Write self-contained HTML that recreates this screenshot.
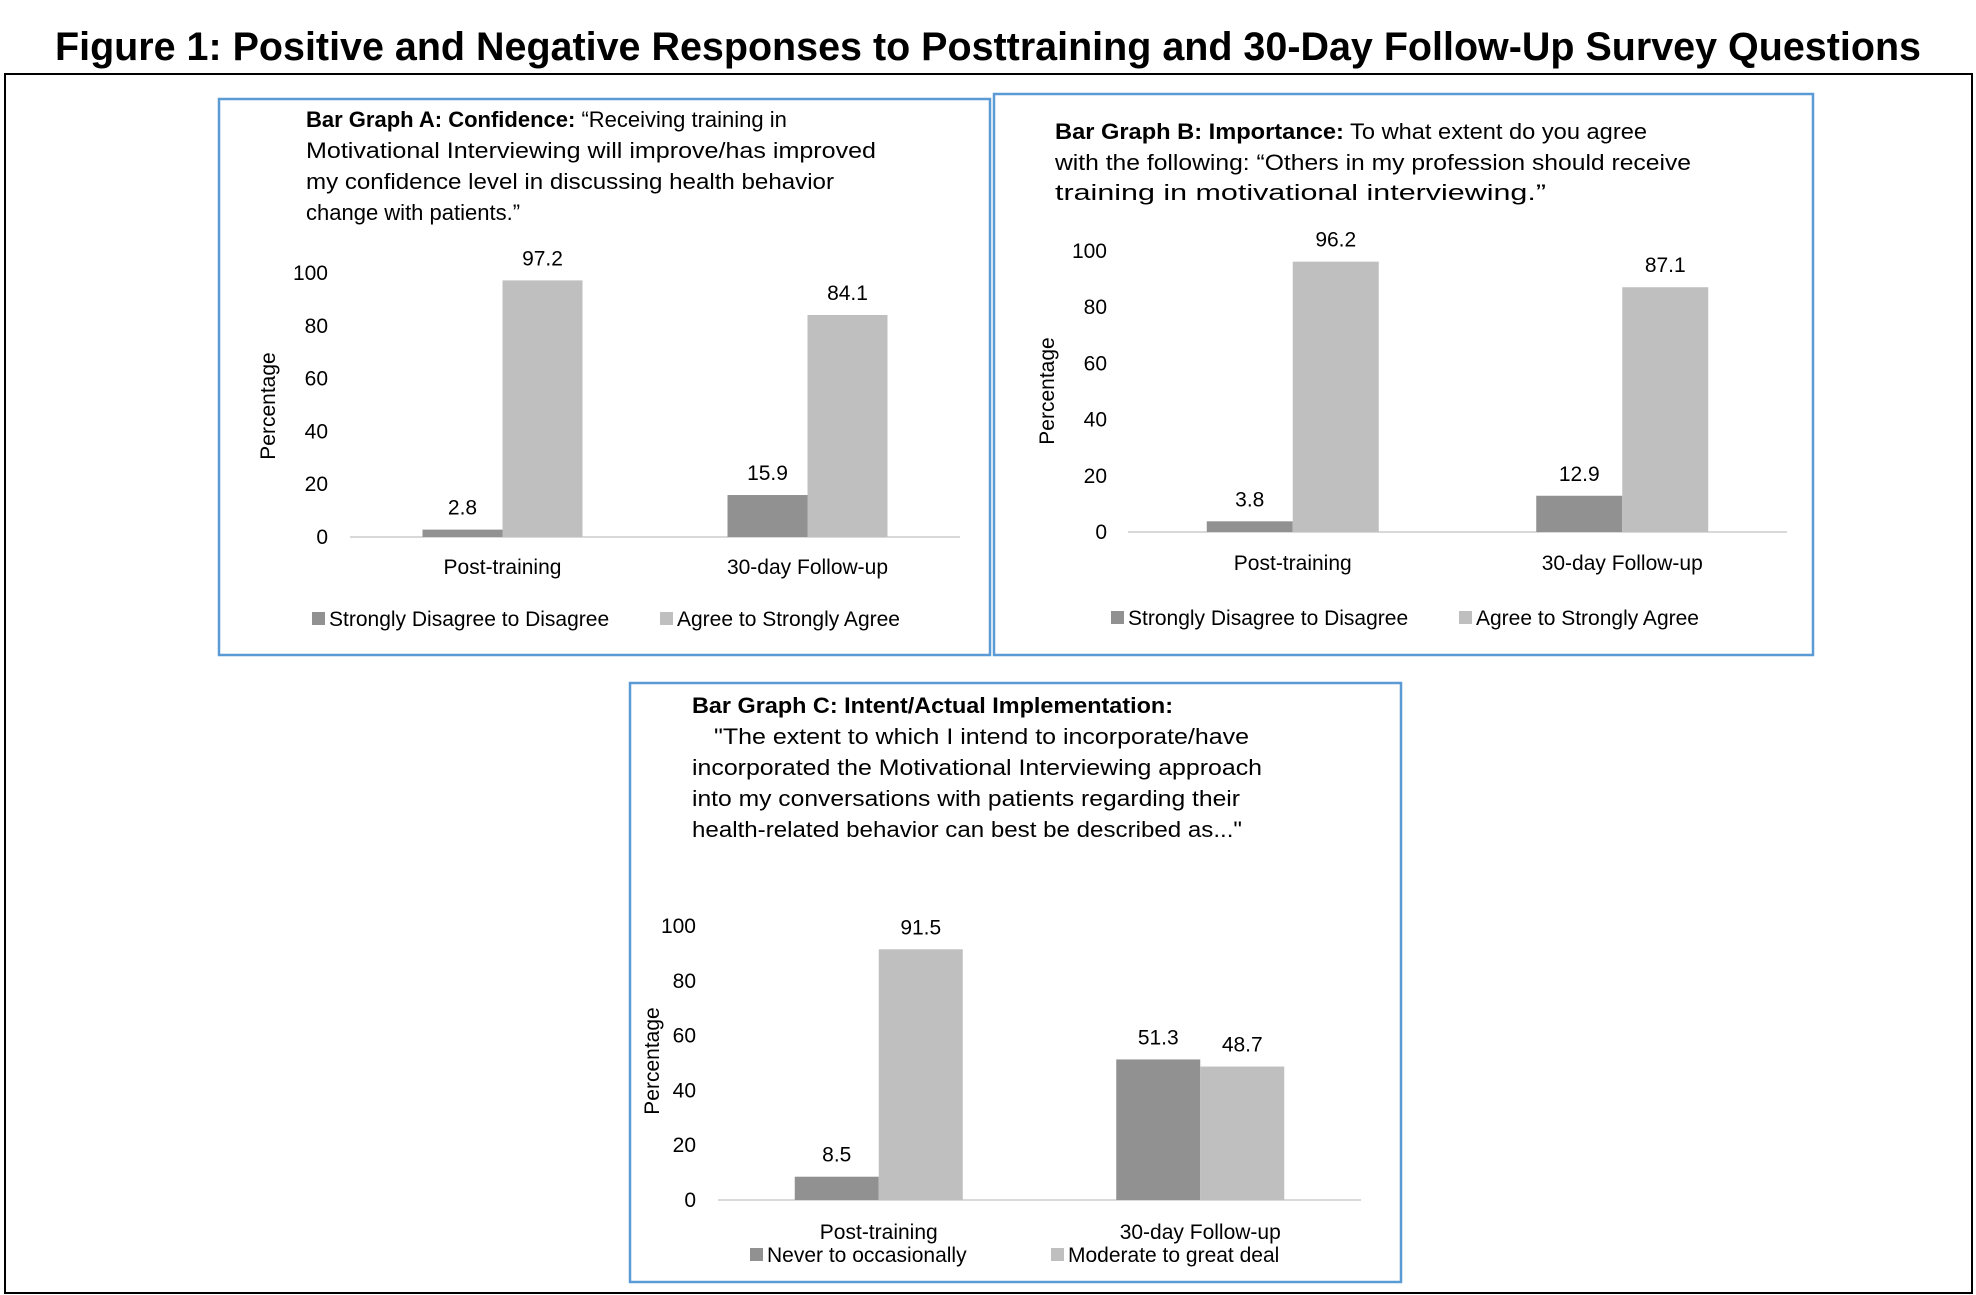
<!DOCTYPE html>
<html><head><meta charset="utf-8"><style>
html,body{margin:0;padding:0;background:#fff;}
svg{display:block;font-family:"Liberation Sans",sans-serif;}
</style></head><body>
<svg id="fig" width="1976" height="1295" viewBox="0 0 1976 1295">
<text x="988" y="60" text-anchor="middle" font-size="40" font-weight="bold" textLength="1866" lengthAdjust="spacingAndGlyphs">Figure 1: Positive and Negative Responses to Posttraining and 30-Day Follow-Up Survey Questions</text>
<rect x="5" y="74" width="1967" height="1219" fill="none" stroke="#000" stroke-width="2"/>
<rect x="219" y="99" width="771" height="556" fill="none" stroke="#5b9bd5" stroke-width="2.5"/>
<rect x="994" y="94" width="819" height="561" fill="none" stroke="#5b9bd5" stroke-width="2.5"/>
<rect x="630" y="683" width="771" height="599" fill="none" stroke="#5b9bd5" stroke-width="2.5"/>
<g font-size="22" fill="#000">
<text x="306" y="127"><tspan font-weight="bold">Bar Graph A: Confidence:</tspan> “Receiving training in</text>
<text x="306" y="158" textLength="570" lengthAdjust="spacingAndGlyphs">Motivational Interviewing will improve/has improved</text>
<text x="306" y="189" textLength="528" lengthAdjust="spacingAndGlyphs">my confidence level in discussing health behavior</text>
<text x="306" y="220">change with patients.”</text>
<text x="1055" y="139" textLength="592" lengthAdjust="spacingAndGlyphs"><tspan font-weight="bold">Bar Graph B: Importance:</tspan> To what extent do you agree</text>
<text x="1055" y="170" textLength="636" lengthAdjust="spacingAndGlyphs">with the following: “Others in my profession should receive</text>
<text x="1055" y="200" textLength="491" lengthAdjust="spacingAndGlyphs">training in motivational interviewing.”</text>
<text x="692" y="713" font-weight="bold" textLength="481" lengthAdjust="spacingAndGlyphs">Bar Graph C: Intent/Actual Implementation:</text>
<text x="714" y="744" textLength="535" lengthAdjust="spacingAndGlyphs">"The extent to which I intend to incorporate/have</text>
<text x="692" y="775" textLength="570" lengthAdjust="spacingAndGlyphs">incorporated the Motivational Interviewing approach</text>
<text x="692" y="806" textLength="548" lengthAdjust="spacingAndGlyphs">into my conversations with patients regarding their</text>
<text x="692" y="837" textLength="550" lengthAdjust="spacingAndGlyphs">health-related behavior can best be described as..."</text>
</g>
</svg>
<script>
const categories = ["Post-training", "30-day Follow-up"];
const tickValues = [0, 20, 40, 60, 80, 100];
const aNegative = [2.8, 15.9];
const aPositive = [97.2, 84.1];
const bNegative = [3.8, 12.9];
const bPositive = [96.2, 87.1];
const cNegative = [8.5, 51.3];
const cPositive = [91.5, 48.7];
const abLegend = ["Strongly Disagree to Disagree", "Agree to Strongly Agree"];
const cLegend = ["Never to occasionally", "Moderate to great deal"];

const NS = "http://www.w3.org/2000/svg";
const svg = document.getElementById("fig");
function mk(tag, attrs, parent) {
  const el = document.createElementNS(NS, tag);
  for (const k in attrs) el.setAttribute(k, attrs[k]);
  (parent || svg).appendChild(el);
  return el;
}
const DARK = "#919191", LIGHT = "#bfbfbf";

function drawChart(id, cfg, neg, pos, legend) {
  const g = mk("g", {});
  
  
  const y = v => cfg.y0 - (v / 100) * (cfg.y0 - cfg.y100);
  const n = categories.length;
  const slot = (cfg.x1 - cfg.x0) / n;
  const cx = i => cfg.x0 + slot * (i + 0.5);
  tickValues.forEach(t => {
    const tx = mk("text", {x: cfg.tickX, y: y(t) + 7, "text-anchor": "end", "font-size": 21, fill: "#000"}, g);
    tx.textContent = t;
    
    
  });
  const axis = mk("line", {x1: cfg.x0, x2: cfg.x1, y1: cfg.y0, y2: cfg.y0, stroke: "#d9d9d9", "stroke-width": 2}, g);
  
  
  const yl = mk("text", {x: 0, y: 0, transform: `translate(${cfg.ylX},${cfg.ylY}) rotate(-90)`, "text-anchor": "middle", "font-size": 21, fill: "#000"}, g);
  yl.textContent = "Percentage";
  
  
  const series = [neg, pos];
  const colors = [DARK, LIGHT];
  categories.forEach((c, i) => {
    series.forEach((s, j) => {
      const bx = cx(i) - cfg.bw + j * cfg.bw;
      const r = mk("rect", {x: bx, y: y(s[i]), width: cfg.bw, height: cfg.y0 - y(s[i]), fill: colors[j]}, g);
      
      
      const lb = mk("text", {x: bx + cfg.bw / 2, y: y(s[i]) - 15, "text-anchor": "middle", "font-size": 21, fill: "#000"}, g);
      lb.textContent = s[i];
      
      
    });
    const cl = mk("text", {x: cx(i), y: cfg.catY, "text-anchor": "middle", "font-size": 21, fill: "#000"}, g);
    cl.textContent = c;
    
    
  });
  legend.forEach((name, j) => {
    const sq = mk("rect", {x: cfg.legX[j], y: cfg.legY - 14, width: 13, height: 13, fill: colors[j]}, g);
    
    
    const lt = mk("text", {x: cfg.legX[j] + 17, y: cfg.legY, "font-size": 21, fill: "#000"}, g);
    lt.textContent = name;
    
    
  });
}

drawChart("chart-a", {x0: 350, x1: 960, y0: 537, y100: 273, tickX: 328, bw: 80, catY: 574, legX: [312, 660], legY: 626, ylX: 275, ylY: 406}, aNegative, aPositive, abLegend);
drawChart("chart-b", {x0: 1128, x1: 1787, y0: 532, y100: 251, tickX: 1107, bw: 86, catY: 570, legX: [1111, 1459], legY: 625, ylX: 1054, ylY: 391}, bNegative, bPositive, abLegend);
drawChart("chart-c", {x0: 718, x1: 1361, y0: 1200, y100: 926, tickX: 696, bw: 84, catY: 1239, legX: [750, 1051], legY: 1262, ylX: 659, ylY: 1061}, cNegative, cPositive, cLegend);
</script>
</body></html>
